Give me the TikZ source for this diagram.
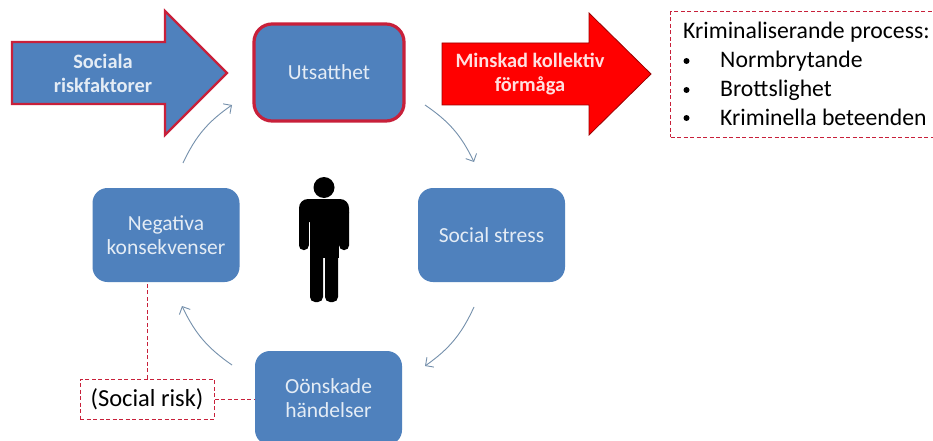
\documentclass[tikz,border=0pt]{standalone}
\usepackage{fontspec}
\setmainfont{Carlito}
\usetikzlibrary{arrows.meta}
\definecolor{boxblue}{HTML}{4F81BD}
\definecolor{boxtext}{HTML}{E4ECF5}
\definecolor{riskred}{HTML}{C8203A}
\definecolor{curvegray}{HTML}{7590AC}
\tikzset{
	stagebox/.style={fill=boxblue,rounded corners=15pt,minimum width=147pt,minimum height=94pt,inner sep=0pt,align=center,text=boxtext,font=\fontsize{21.5}{24}\selectfont},
	risktext/.style={align=center,font=\bfseries\fontsize{20.4}{24}\selectfont},
	listtext/.style={anchor=base west,inner sep=0pt,font=\fontsize{23.7}{24}\selectfont},
	riskline/.style={draw=riskred,dash pattern=on 4pt off 2.5pt,line width=1pt},
	cycle arrow/.style={draw=curvegray,line width=.9pt,-{Straight Barb[length=6pt,width=12pt]},bend left=15}
}
\begin{document}
\begin{tikzpicture}[x=1pt,y=-1pt]
		\clip (0,0) rectangle (933,441);
		\fill [white] (0,0) rectangle (933,441);
		
		\draw [fill=boxblue,draw=riskred,line width=2.2pt,miter limit=4] (12,42) -- (165,42) -- (165,11) -- (227,73) -- (165,135) -- (165,104) -- (12,104) -- cycle;
		\node [risktext,text=boxtext] (social) at (103,73) {Sociala\\riskfaktorer};
		\draw [fill=red,draw=red!60!black,line width=.8pt] (442,43) -- (589,43) -- (589,13) -- (651,74) -- (589,135) -- (589,105) -- (442,105) -- cycle;
		\node [risktext,text=red!12!white] (minskad) at (530,74) {Minskad kollektiv\\förmåga};
		
		\node [stagebox,draw=riskred,line width=3.2pt,minimum width=150pt,minimum height=97pt,rounded corners=18pt] (utsatt) at (329,72.5) {Utsatthet};
		\node [stagebox] (stress) at (491.5,235) {Social stress};
		\node [stagebox] (oonskad) at (328.5,398) {Oönskade\\händelser};
		\node [stagebox] (negativ) at (166,235) {Negativa\\konsekvenser};
		
		\node [riskline,draw,fill=white,minimum width=263pt,minimum height=125pt,inner sep=0pt] (process) at (802,74.5) {};
		\node [listtext] (proctitle) at (683,39) {Kriminaliserande process:};
		\foreach \y/\t/\n in {68/Normbrytande/a,97/Brottslighet/b,125/Kriminella beteenden/c} {
			\node [listtext] (item\n) at (720,\y) {\t};
			\node [circle,fill,inner sep=0pt,minimum size=6pt] (bullet\n) at (686.5,\y-7) {};
		}
		
		\node [riskline,draw,fill=white,minimum width=134pt,minimum height=40pt,inner sep=0pt,font=\fontsize{24.5}{24}\selectfont] (risk) at (147,399) {(Social risk)};
		\draw [riskline] (risk.north) -- (risk.north |- negativ.south);
		\draw [riskline] (risk.east) -- (risk.east -| oonskad.west);
		
		\coordinate (a1) at (183,163); \coordinate (a2) at (232,105);
		\coordinate (b1) at (425,105); \coordinate (b2) at (474,162);
		\coordinate (c1) at (474,307); \coordinate (c2) at (425,366);
		\coordinate (d1) at (232,365); \coordinate (d2) at (182,306);
		\draw [cycle arrow] (a1) to (a2);
		\draw [cycle arrow] (b1) to (b2);
		\draw [cycle arrow] (c1) to (c2);
		\draw [cycle arrow] (d1) to (d2);
		
		\fill (324,187.5) circle (10.5pt);
		\fill [rounded corners=9pt] (299,199) rectangle (349,222);
		\fill [rounded corners=4.5pt] (299,208) rectangle (308.8,250);
		\fill [rounded corners=4.5pt] (339.2,208) rectangle (349,250);
		\fill (309.5,205) rectangle (338.5,258);
		\fill [rounded corners=5pt] (310,245) rectangle (323,302);
		\fill [rounded corners=5pt] (325,245) rectangle (338,302);
		\end{tikzpicture}
\end{document}
